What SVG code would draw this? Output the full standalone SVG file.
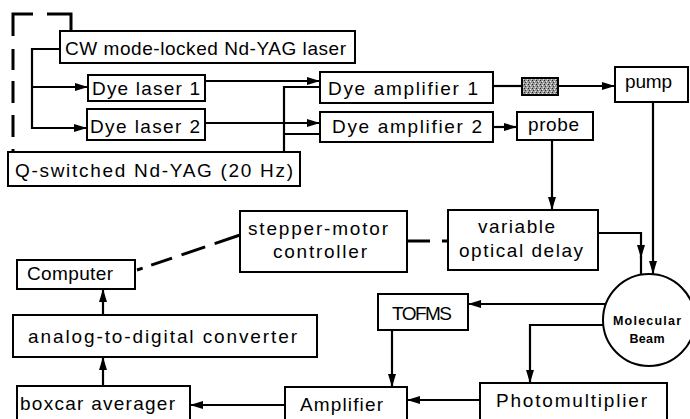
<svg xmlns="http://www.w3.org/2000/svg" width="690" height="419" viewBox="0 0 690 419">
  <style>
    .box { fill: #fff; stroke: #000; stroke-width: 2; }
    .wire { fill: none; stroke: #000; stroke-width: 2.2; }
    .dash { fill: none; stroke: #000; stroke-width: 3; }
    .lbl { font-family: "Liberation Sans", "DejaVu Sans", sans-serif; font-size: 19px; fill: #000; }
    .sm { font-family: "Liberation Sans", "DejaVu Sans", sans-serif; font-size: 12.5px; font-weight: bold; fill: #000; text-anchor: middle; }
  </style>
  <defs>
    <marker id="arr" markerUnits="userSpaceOnUse" markerWidth="14" markerHeight="10" refX="13" refY="5" orient="auto">
      <path d="M0,1 L13,5 L0,9 Z" fill="#000"/>
    </marker>
    <pattern id="grain" width="4" height="4" patternUnits="userSpaceOnUse">
      <rect width="4" height="4" fill="#9a9a9a"/>
      <rect x="0" y="0" width="1" height="1" fill="#222"/>
      <rect x="2" y="1" width="1" height="1" fill="#eee"/>
      <rect x="1" y="2" width="1" height="1" fill="#333"/>
      <rect x="3" y="3" width="1" height="1" fill="#ddd"/>
    </pattern>
  </defs>

  <rect width="690" height="419" fill="#fff"/>

  <!-- connectors -->
  <g id="connectors">
    <!-- dashed trigger link from the Q-switched laser to the CW laser -->
    <path class="dash" d="M13,36 V14 H33 M47,14 H71 V31 M13,49 V70 M13,81 V103 M13,115 V137 M13,149 V152"/>
    <!-- CW laser feeding both dye lasers -->
    <path class="wire" d="M60,49 H32 V128 H87" marker-end="url(#arr)"/>
    <path class="wire" d="M32,87 H88" marker-end="url(#arr)"/>
    <!-- dye lasers to amplifiers -->
    <path class="wire" d="M205,81 H320" marker-end="url(#arr)"/>
    <path class="wire" d="M205,123 H320" marker-end="url(#arr)"/>
    <!-- Q-switched pump into amplifiers -->
    <path class="wire" d="M284,152 V87 H320 M284,134 H320"/>
    <!-- amplifier 1 through filter to pump -->
    <path class="wire" d="M493,86 H522"/>
    <path class="wire" d="M558,86 H615" marker-end="url(#arr)"/>
    <!-- amplifier 2 to probe -->
    <path class="wire" d="M493,127 H517" marker-end="url(#arr)"/>
    <!-- probe to delay line -->
    <path class="wire" d="M552,140 V210" marker-end="url(#arr)"/>
    <!-- pump to molecular beam -->
    <path class="wire" d="M653,102 V274" marker-end="url(#arr)"/>
    <!-- delay line to molecular beam -->
    <path class="wire" d="M598,233 H641 V258" marker-end="url(#arr)"/>
    <path class="wire" d="M641,256 V276"/>
    <!-- molecular beam to detectors -->
    <path class="wire" d="M606,304 H468" marker-end="url(#arr)"/>
    <path class="wire" d="M605,325 H530 V383" marker-end="url(#arr)"/>
    <!-- detectors to amplifier -->
    <path class="wire" d="M392,330 V387" marker-end="url(#arr)"/>
    <path class="wire" d="M480,400 H407" marker-end="url(#arr)"/>
    <!-- signal chain to computer -->
    <path class="wire" d="M285,405 H190" marker-end="url(#arr)"/>
    <path class="wire" d="M103,386 V357" marker-end="url(#arr)"/>
    <path class="wire" d="M103,315 V289" marker-end="url(#arr)"/>
    <!-- control links -->
    <path class="dash" d="M137,270 L240,235" stroke-dasharray="6 9 22 10 25 10 30"/>
    <path class="dash" d="M407,241 H430 M442,241 H448"/>
  </g>

  <!-- nodes -->
  <g id="cw-laser">
    <rect class="box" x="60" y="31" width="295" height="32"/>
    <text class="lbl" x="65" y="55" textLength="281">CW mode-locked Nd-YAG laser</text>
  </g>
  <g id="dye-laser-1">
    <rect class="box" x="88" y="75" width="117" height="26"/>
    <text class="lbl" x="92" y="95" textLength="108">Dye laser 1</text>
  </g>
  <g id="dye-laser-2">
    <rect class="box" x="87" y="109" width="118" height="31"/>
    <text class="lbl" x="90" y="133" textLength="110">Dye laser 2</text>
  </g>
  <g id="q-switched">
    <rect class="box" x="8" y="152" width="292" height="34"/>
    <text class="lbl" x="15" y="177" textLength="278">Q-switched  Nd-YAG (20 Hz)</text>
  </g>
  <g id="dye-amp-1">
    <rect class="box" x="320" y="72" width="173" height="31"/>
    <text class="lbl" x="328" y="95" textLength="150">Dye amplifier 1</text>
  </g>
  <g id="dye-amp-2">
    <rect class="box" x="320" y="112" width="173" height="30"/>
    <text class="lbl" x="332" y="133" textLength="150">Dye amplifier 2</text>
  </g>
  <g id="filter">
    <rect x="522" y="78" width="36" height="17" fill="url(#grain)" stroke="#000" stroke-width="2"/>
  </g>
  <g id="pump">
    <rect class="box" x="615" y="67" width="73" height="35"/>
    <text class="lbl" x="625" y="88" textLength="47">pump</text>
  </g>
  <g id="probe">
    <rect class="box" x="517" y="112" width="76" height="28"/>
    <text class="lbl" x="528" y="131" textLength="51">probe</text>
  </g>
  <g id="optical-delay">
    <rect class="box" x="448" y="210" width="150" height="60"/>
    <text class="lbl" x="478" y="233" textLength="77">variable</text>
    <text class="lbl" x="459" y="257" textLength="124">optical delay</text>
  </g>
  <g id="stepper-controller">
    <rect class="box" x="240" y="211" width="167" height="61"/>
    <text class="lbl" x="248" y="235" textLength="140">stepper-motor</text>
    <text class="lbl" x="273" y="258" textLength="94">controller</text>
  </g>
  <g id="computer">
    <rect class="box" x="17" y="260" width="118" height="29"/>
    <text class="lbl" x="27" y="280" textLength="86">Computer</text>
  </g>
  <g id="adc">
    <rect class="box" x="13" y="315" width="304" height="42"/>
    <text class="lbl" x="28" y="343" textLength="269">analog-to-digital converter</text>
  </g>
  <g id="boxcar">
    <rect class="box" x="17" y="386" width="173" height="40"/>
    <text class="lbl" x="20" y="410" textLength="155">boxcar averager</text>
  </g>
  <g id="amplifier">
    <rect class="box" x="285" y="387" width="122" height="40"/>
    <text class="lbl" x="300" y="411" textLength="83">Amplifier</text>
  </g>
  <g id="photomultiplier">
    <rect class="box" x="480" y="383" width="187" height="44"/>
    <text class="lbl" x="496" y="407" textLength="151">Photomultiplier</text>
  </g>
  <g id="tofms">
    <rect class="box" x="378" y="294" width="90" height="36"/>
    <text class="lbl" x="392" y="320" textLength="60">TOFMS</text>
  </g>
  <g id="molecular-beam">
    <circle cx="649" cy="320" r="46" fill="#fff" stroke="#000" stroke-width="2"/>
    <text class="sm" x="647" y="325" textLength="68">Molecular</text>
    <text class="sm" x="647" y="343" textLength="35">Beam</text>
  </g>
</svg>
